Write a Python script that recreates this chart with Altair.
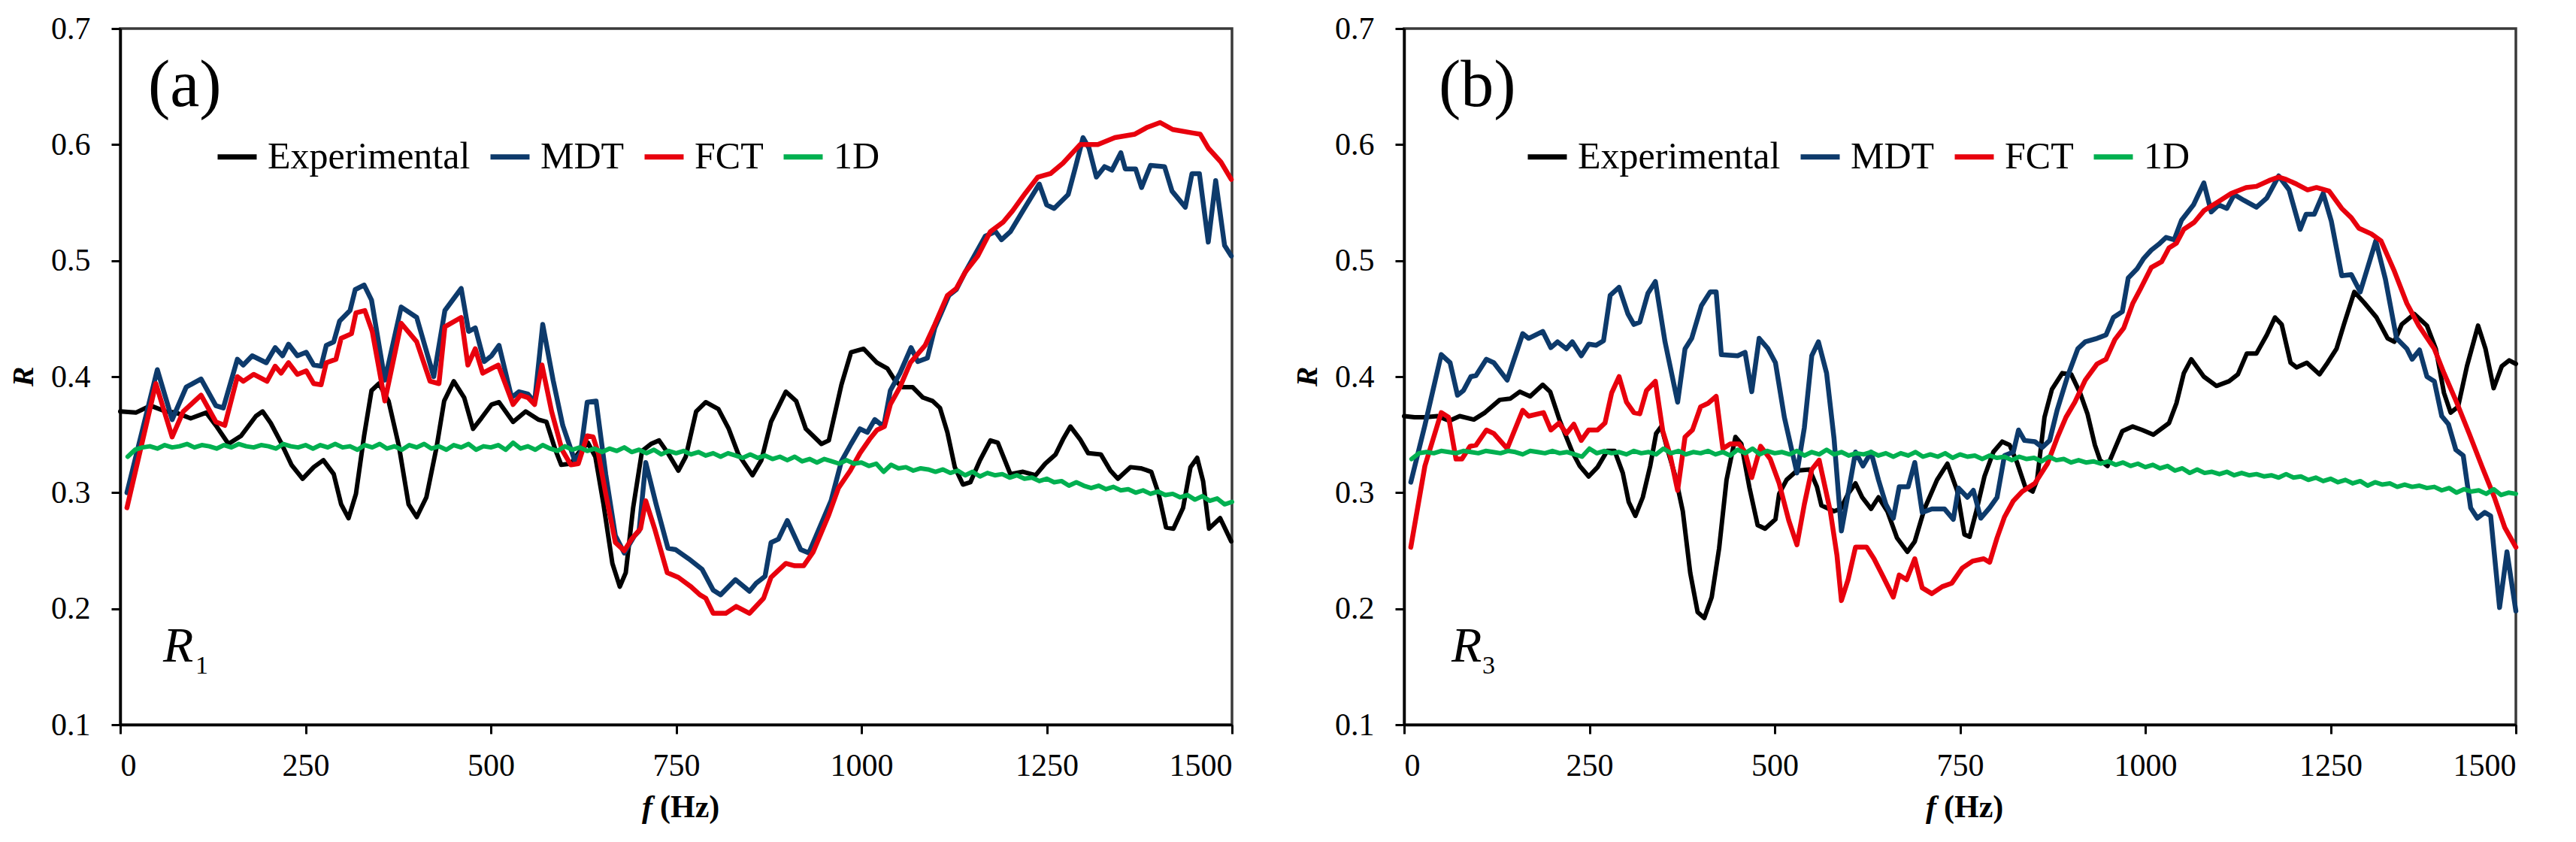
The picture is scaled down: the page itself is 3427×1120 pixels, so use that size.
import altair as alt
import pandas as pd

SERIES = ["Experimental", "MDT", "FCT", "1D"]
COLORS = ["#000000", "#0d3a6b", "#e8000d", "#00b050"]
WIDTHS = [6, 6.5, 6.5, 6]
FONT = "Liberation Serif"
X_TICKS = [0, 250, 500, 750, 1000, 1250, 1500]
Y_TICKS = [0.1, 0.2, 0.3, 0.4, 0.5, 0.6, 0.7]

# ---------------- panel (a) ----------------
a_exp_f = [0, 21, 41, 61, 75, 95, 116, 129, 146, 163, 183, 192, 203, 217, 231, 246, 261, 274, 288, 298,
           308, 318, 329, 339, 349, 362, 376, 389, 400, 413, 427, 437, 450, 464, 476, 487, 501,
           511, 530, 547, 564, 575, 587, 595, 608, 618, 631, 641, 652, 664, 674, 682, 692, 704, 716,
           727, 739, 753, 763, 777, 790, 807, 821, 834, 853, 865, 878, 898, 912, 925, 946, 956, 973,
           986, 1003, 1021, 1035, 1045, 1055, 1069, 1083, 1096, 1106, 1116, 1126, 1137, 1147, 1160,
           1174, 1184, 1201, 1218, 1235, 1248, 1262, 1272, 1282, 1295, 1306, 1323, 1336, 1346, 1363,
           1377, 1391, 1401, 1411, 1421, 1434, 1444, 1453, 1461, 1469, 1484, 1499]
a_exp_r = [0.370, 0.369, 0.375, 0.370, 0.369, 0.364, 0.369, 0.358, 0.342, 0.349, 0.366, 0.370, 0.360, 0.343,
           0.324, 0.312, 0.322, 0.328, 0.316, 0.290, 0.278, 0.299, 0.349, 0.388, 0.394, 0.379, 0.340,
           0.290, 0.279, 0.296, 0.340, 0.379, 0.396, 0.382, 0.355, 0.364, 0.376,
           0.378, 0.361, 0.370, 0.363, 0.361, 0.337, 0.324, 0.325, 0.334, 0.343, 0.331, 0.290, 0.239,
           0.219, 0.231, 0.287, 0.336, 0.342, 0.345, 0.334, 0.319, 0.331, 0.370, 0.378, 0.372, 0.355,
           0.333, 0.315, 0.328, 0.361, 0.387, 0.379, 0.355, 0.342, 0.345, 0.393, 0.421, 0.424,
           0.412, 0.407, 0.397, 0.391, 0.391, 0.382, 0.379, 0.373, 0.352, 0.322, 0.307, 0.309, 0.328,
           0.345, 0.343, 0.316, 0.318, 0.315, 0.325, 0.333, 0.346, 0.357, 0.346, 0.334, 0.333, 0.319,
           0.312, 0.322, 0.321, 0.318, 0.299, 0.270, 0.269, 0.287, 0.322, 0.330, 0.310, 0.269, 0.278,
           0.258]

a_mdt_f = [9, 50, 70, 89, 109, 129, 139, 158, 166, 178, 197, 209, 219, 227, 239, 251, 261, 271, 278, 288,
           296, 310, 317, 329, 339, 357, 379, 400, 423, 438, 460, 470, 479, 491, 501,
           511, 528, 538, 550, 559, 570, 584, 597, 613, 621, 630, 642, 655, 668, 680, 694, 700, 709,
           723, 739, 749, 767, 785, 800, 810, 830, 849, 858, 870, 878, 888, 900, 918, 929, 945, 959,
           973, 986, 998, 1008, 1018, 1030, 1039, 1052, 1067, 1076, 1089, 1099, 1118, 1128, 1140,
           1167, 1181, 1189, 1201, 1218, 1240, 1250, 1260, 1279, 1289, 1299, 1307, 1317, 1328, 1338,
           1350, 1356, 1370, 1378, 1390, 1409, 1419, 1437, 1446, 1456, 1468, 1478, 1490, 1499]
a_mdt_r = [0.300, 0.406, 0.363, 0.391, 0.398, 0.375, 0.373, 0.415, 0.410, 0.418, 0.412, 0.425, 0.418, 0.428,
           0.418, 0.421, 0.410, 0.409, 0.427, 0.430, 0.448, 0.457, 0.475, 0.479, 0.466, 0.397, 0.460,
           0.451, 0.400, 0.457, 0.476, 0.439, 0.442, 0.413, 0.418,
           0.427, 0.382, 0.387, 0.385, 0.378, 0.445, 0.397, 0.358, 0.328, 0.334, 0.378, 0.379, 0.316,
           0.263, 0.248, 0.263, 0.267, 0.326, 0.290, 0.252, 0.251, 0.243, 0.234, 0.216, 0.212, 0.225,
           0.215, 0.222, 0.228, 0.257, 0.260, 0.276, 0.251, 0.248, 0.272, 0.293, 0.327, 0.342,
           0.355, 0.352, 0.363, 0.357, 0.388, 0.403, 0.425, 0.413, 0.416, 0.442, 0.470, 0.475, 0.490,
           0.521, 0.525, 0.518, 0.525, 0.543, 0.566, 0.548, 0.545, 0.557, 0.581, 0.606, 0.597, 0.572,
           0.581, 0.578, 0.593, 0.579, 0.579, 0.563, 0.582, 0.581, 0.560, 0.546, 0.575, 0.575, 0.516,
           0.569, 0.513, 0.504]

a_fct_f = [9, 48, 70, 85, 109, 129, 141, 158, 166, 180, 198, 209, 217, 227, 239, 251, 261, 271, 278, 291,
           298, 312, 318, 330, 340, 357, 379, 400, 418, 430, 438, 460, 469, 479, 489, 501,
           510, 530, 540, 550, 559, 569, 582, 596, 608, 618, 630, 638, 645, 655, 668, 680, 690, 702,
           709, 721, 738, 753, 770, 782, 790, 800, 817, 831, 849, 868, 878, 898, 910, 922, 935, 956,
           969, 985, 998, 1011, 1021, 1031, 1039, 1052, 1066, 1086, 1099, 1116, 1128, 1140, 1157,
           1174, 1191, 1204, 1221, 1238, 1255, 1272, 1295, 1319, 1342, 1369, 1386, 1403, 1420, 1447,
           1457, 1468, 1485, 1499]
a_fct_r = [0.287, 0.394, 0.348, 0.370, 0.384, 0.361, 0.358, 0.400, 0.396, 0.402, 0.396, 0.409, 0.403, 0.412,
           0.402, 0.405, 0.394, 0.393, 0.412, 0.415, 0.433, 0.437, 0.455, 0.457, 0.439, 0.379, 0.446,
           0.430, 0.396, 0.394, 0.443, 0.451, 0.410, 0.424, 0.403, 0.407,
           0.410, 0.376, 0.384, 0.382, 0.376, 0.410, 0.370, 0.337, 0.324, 0.325, 0.349, 0.348, 0.334,
           0.299, 0.257, 0.250, 0.260, 0.269, 0.293, 0.269, 0.231, 0.227, 0.219, 0.212, 0.209, 0.196,
           0.196, 0.202, 0.196, 0.209, 0.227, 0.239, 0.237, 0.237, 0.249, 0.281, 0.304, 0.319,
           0.334, 0.346, 0.354, 0.357, 0.376, 0.391, 0.412, 0.427, 0.445, 0.470, 0.476, 0.490, 0.504,
           0.525, 0.533, 0.543, 0.558, 0.572, 0.575, 0.584, 0.600, 0.600, 0.606, 0.609, 0.615, 0.619,
           0.613, 0.610, 0.609, 0.597, 0.585, 0.570]

a_1d_r = [0.331, 0.337, 0.339, 0.340, 0.338, 0.341, 0.339, 0.340, 0.342, 0.339,
          0.341, 0.340, 0.338, 0.341, 0.339, 0.342, 0.340, 0.339, 0.341, 0.340,
          0.338, 0.342, 0.340, 0.339, 0.341, 0.338, 0.341, 0.339, 0.342, 0.339,
          0.340, 0.337, 0.341, 0.339, 0.342, 0.338, 0.340, 0.337, 0.341, 0.339,
          0.342, 0.338, 0.340, 0.337, 0.341, 0.339, 0.342, 0.337, 0.340, 0.339,
          0.341, 0.337, 0.343, 0.338, 0.340, 0.337, 0.341, 0.338, 0.336, 0.340,
          0.337, 0.339, 0.336, 0.338, 0.335, 0.338, 0.336, 0.339, 0.335, 0.337,
          0.334, 0.337, 0.333, 0.336, 0.334, 0.336, 0.333, 0.335, 0.332, 0.334,
          0.331, 0.334, 0.332, 0.330, 0.333, 0.330, 0.332, 0.329, 0.331, 0.328,
          0.331, 0.327, 0.329, 0.326, 0.329, 0.327, 0.325, 0.328, 0.325, 0.326,
          0.323, 0.325, 0.318, 0.324, 0.321, 0.322, 0.319, 0.321, 0.320, 0.318,
          0.320, 0.317, 0.319, 0.315, 0.318, 0.314, 0.317, 0.315, 0.316, 0.313,
          0.315, 0.312, 0.313, 0.310, 0.312, 0.309, 0.310, 0.306, 0.309, 0.306,
          0.304, 0.306, 0.303, 0.305, 0.302, 0.303, 0.300, 0.302, 0.299, 0.301,
          0.298, 0.299, 0.296, 0.298, 0.294, 0.297, 0.293, 0.295, 0.290, 0.292]

# ---------------- panel (b) ----------------
b_exp_f = [0, 14, 28, 45, 61, 75, 94, 109, 129, 143, 156, 170, 187, 197, 210, 227, 237, 249, 261, 274,
           284, 295, 303, 312, 322, 332, 340, 347, 355, 366, 376, 386, 396, 405, 415, 425, 435, 447,
           455, 466, 477, 487, 501,
           506, 516, 530, 547, 557, 563, 580, 589, 599, 609, 618, 630, 640, 652, 665, 679, 689, 702,
           719, 733, 746, 756, 763, 772, 783, 795, 807, 817, 827, 838, 848, 854, 864, 874, 888, 900,
           912, 922, 932, 939, 949, 959, 969, 983, 996,
           1011, 1032, 1042, 1052, 1062, 1079, 1096, 1113, 1125, 1137, 1150, 1164, 1175, 1184, 1196,
           1204, 1218, 1235, 1246, 1258, 1268, 1282, 1295, 1312, 1327, 1336, 1346, 1363, 1380, 1392,
           1403, 1412, 1422, 1434, 1449, 1459, 1470, 1481, 1491, 1500]
b_exp_r = [0.366, 0.365, 0.365, 0.366, 0.362, 0.366, 0.363, 0.369, 0.380, 0.381, 0.387, 0.383, 0.393, 0.387,
           0.362, 0.335, 0.323, 0.314, 0.322, 0.336, 0.336, 0.317, 0.292, 0.280, 0.296, 0.323, 0.351,
           0.357, 0.338, 0.314, 0.284, 0.231, 0.197, 0.192, 0.210, 0.252, 0.311, 0.348, 0.342, 0.304,
           0.272, 0.269, 0.277,
           0.299, 0.311, 0.319, 0.320, 0.305, 0.289, 0.284, 0.286, 0.299, 0.308, 0.296, 0.286, 0.296,
           0.284, 0.261, 0.249, 0.258, 0.286, 0.311, 0.325, 0.302, 0.264, 0.262, 0.284, 0.314, 0.335,
           0.344, 0.341, 0.326, 0.305, 0.301, 0.311, 0.365, 0.389, 0.403, 0.402, 0.386, 0.368, 0.341,
           0.328, 0.323, 0.338, 0.353, 0.357, 0.354,
           0.350, 0.360, 0.377, 0.403, 0.415, 0.400, 0.392, 0.396, 0.402, 0.420, 0.420, 0.436, 0.451,
           0.445, 0.412, 0.408, 0.412, 0.402, 0.412, 0.424, 0.445, 0.473, 0.464, 0.451, 0.433, 0.430,
           0.445, 0.454, 0.444, 0.424, 0.386, 0.369, 0.374, 0.409, 0.444, 0.424, 0.390, 0.409, 0.414,
           0.411]

b_mdt_f = [9, 28, 50, 62, 72, 80, 90, 97, 111, 121, 139, 160, 168, 187, 198, 207, 219, 227, 239, 249,
           259, 269, 278, 290, 302, 310, 318, 329, 339, 352, 369, 379, 388, 401, 413, 421, 428, 450,
           460, 469, 479, 491, 501,
           513, 530, 540, 550, 559, 570, 580, 590, 599, 609, 619, 630, 640, 650, 660, 668, 680, 689,
           699, 712, 729, 741, 748, 760, 768, 778, 790, 800, 810, 822, 829, 837, 851, 861, 871, 881,
           895, 909, 919, 935, 947, 957, 969, 977, 989,
           998, 1008, 1018, 1028, 1039, 1049, 1065, 1079, 1089, 1099, 1110, 1120, 1133, 1150, 1164,
           1180, 1194, 1209, 1217, 1228, 1240, 1251, 1265, 1278, 1290, 1311, 1324, 1339, 1353, 1360,
           1370, 1380, 1390, 1400, 1409, 1419, 1429, 1439, 1448, 1458, 1466, 1478, 1488, 1500]
b_mdt_r = [0.309, 0.358, 0.419, 0.412, 0.384, 0.388, 0.400, 0.401, 0.415, 0.412, 0.397, 0.437, 0.433, 0.439,
           0.425, 0.430, 0.424, 0.430, 0.418, 0.428, 0.427, 0.431, 0.470, 0.477, 0.454, 0.445, 0.447,
           0.472, 0.482, 0.430, 0.378, 0.424, 0.433, 0.461, 0.473, 0.473, 0.419, 0.418, 0.421, 0.387,
           0.433, 0.424, 0.412,
           0.365, 0.317, 0.356, 0.418, 0.430, 0.403, 0.347, 0.267, 0.299, 0.335, 0.323, 0.335, 0.311,
           0.290, 0.278, 0.305, 0.305, 0.326, 0.283, 0.286, 0.286, 0.277, 0.304, 0.296, 0.302, 0.278,
           0.287, 0.296, 0.332, 0.335, 0.354, 0.345, 0.344, 0.339, 0.345, 0.371, 0.400, 0.424, 0.430,
           0.433, 0.436, 0.451, 0.456, 0.485, 0.493,
           0.502, 0.509, 0.514, 0.520, 0.518, 0.535, 0.548, 0.567, 0.542, 0.548, 0.545, 0.557, 0.552,
           0.546, 0.554, 0.573, 0.561, 0.527, 0.540, 0.540, 0.558, 0.534, 0.487, 0.488, 0.473, 0.517,
           0.484, 0.433, 0.424, 0.415, 0.423, 0.400, 0.396, 0.366, 0.359, 0.337, 0.332, 0.287, 0.278,
           0.283, 0.280, 0.201, 0.249, 0.198]

b_fct_f = [9, 28, 50, 60, 70, 78, 89, 97, 111, 121, 139, 160, 168, 188, 198, 209, 219, 229, 239, 249,
           261, 271, 280, 290, 300, 310, 318, 327, 339, 349, 359, 369, 379, 389, 400, 410, 421, 430,
           440, 452, 460, 469, 481, 494,
           506, 519, 530, 540, 550, 560, 575, 584, 590, 599, 609, 624, 634, 646, 660, 668, 678, 689,
           699, 712, 726, 739, 753, 767, 782, 790, 800, 810, 822, 834, 851, 868, 881, 893, 905, 919,
           935, 947, 959, 971, 983, 993,
           1008, 1022, 1032, 1042, 1052, 1066, 1079, 1099, 1116, 1136, 1150, 1167, 1180, 1190, 1204,
           1219, 1231, 1248, 1265, 1278, 1288, 1305, 1318, 1336, 1353, 1369, 1390, 1403, 1420, 1437,
           1454, 1471, 1485, 1500]
b_fct_r = [0.253, 0.323, 0.369, 0.365, 0.329, 0.329, 0.340, 0.341, 0.354, 0.351, 0.338, 0.371, 0.366, 0.369,
           0.354, 0.360, 0.351, 0.359, 0.345, 0.354, 0.354, 0.360, 0.386, 0.400, 0.378, 0.369, 0.368,
           0.388, 0.396, 0.353, 0.332, 0.302, 0.348, 0.354, 0.374, 0.377, 0.383, 0.338, 0.342, 0.342,
           0.335, 0.313, 0.340, 0.329,
           0.308, 0.276, 0.255, 0.290, 0.320, 0.328, 0.284, 0.246, 0.207, 0.225, 0.253, 0.253, 0.243,
           0.228, 0.210, 0.229, 0.225, 0.243, 0.218, 0.213, 0.219, 0.222, 0.235, 0.241, 0.243, 0.240,
           0.261, 0.279, 0.293, 0.301, 0.308, 0.325, 0.347, 0.365, 0.378, 0.397, 0.411, 0.415, 0.432,
           0.442, 0.463, 0.475,
           0.494, 0.499, 0.511, 0.515, 0.527, 0.533, 0.543, 0.551, 0.558, 0.563, 0.564, 0.569, 0.572,
           0.570, 0.566, 0.561, 0.563, 0.560, 0.545, 0.537, 0.528, 0.523, 0.517, 0.491, 0.463, 0.444,
           0.424, 0.403, 0.378, 0.351, 0.323, 0.296, 0.270, 0.253]

b_1d_r = [0.329, 0.334, 0.335, 0.334, 0.336, 0.335, 0.334, 0.336, 0.335, 0.334,
          0.336, 0.335, 0.334, 0.336, 0.335, 0.333, 0.336, 0.335, 0.334, 0.336,
          0.334, 0.335, 0.333, 0.331, 0.338, 0.334, 0.336, 0.334, 0.335, 0.333,
          0.336, 0.334, 0.335, 0.333, 0.338, 0.334, 0.336, 0.333, 0.335, 0.334,
          0.336, 0.333, 0.335, 0.332, 0.337, 0.334, 0.338, 0.333, 0.336, 0.334,
          0.335, 0.333, 0.336, 0.332, 0.335, 0.333, 0.337, 0.333, 0.335, 0.332,
          0.334, 0.333, 0.335, 0.332, 0.334, 0.331, 0.334, 0.332, 0.335, 0.331,
          0.333, 0.331, 0.334, 0.330, 0.333, 0.331, 0.332, 0.329, 0.332, 0.330,
          0.331, 0.328, 0.331, 0.329, 0.330, 0.327, 0.331, 0.328, 0.329, 0.326,
          0.328, 0.326, 0.327, 0.325, 0.327, 0.324, 0.326, 0.323, 0.325, 0.322,
          0.324, 0.321, 0.323, 0.319, 0.321, 0.317, 0.320, 0.317, 0.318, 0.316,
          0.318, 0.315, 0.317, 0.315, 0.316, 0.314, 0.315, 0.313, 0.316, 0.313,
          0.314, 0.311, 0.313, 0.310, 0.312, 0.309, 0.311, 0.308, 0.310, 0.306,
          0.309, 0.307, 0.308, 0.305, 0.307, 0.305, 0.306, 0.304, 0.305, 0.302,
          0.304, 0.300, 0.303, 0.301, 0.302, 0.299, 0.303, 0.298, 0.300, 0.299]

d1_f = list(range(10, 1510, 10))

PLOT_W = 1479
PLOT_H = 926


def text_layer(txt, x, y, size, style="normal", weight="normal", align="left",
               baseline="alphabetic", angle=0):
    return alt.Chart(pd.DataFrame({"t": [txt]})).mark_text(
        font=FONT, fontSize=size, fontStyle=style, fontWeight=weight, align=align,
        baseline=baseline, angle=angle, color="black"
    ).encode(x=alt.value(x), y=alt.value(y), text="t:N")


def panel(exp_f, exp_r, mdt_f, mdt_r, fct_f, fct_r, d1_r, tag, tag_x, sub, r_x, sub_x, leg_x):
    rows = []
    for name, fs, rs in [("Experimental", exp_f, exp_r), ("MDT", mdt_f, mdt_r),
                         ("FCT", fct_f, fct_r), ("1D", d1_f, d1_r)]:
        rows += [{"f": f, "R": r, "series": name} for f, r in zip(fs, rs)]
    df = pd.DataFrame(rows)

    x = alt.X("f:Q", scale=alt.Scale(domain=[0, 1500], nice=False, zero=False),
              axis=alt.Axis(values=X_TICKS, title=None, labelPadding=22, format="d"))
    y = alt.Y("R:Q", scale=alt.Scale(domain=[0.1, 0.7], nice=False, zero=False),
              axis=alt.Axis(values=Y_TICKS, title=None, format=".1f", labelPadding=28))
    color = alt.Color(
        "series:N",
        scale=alt.Scale(domain=SERIES, range=COLORS),
        legend=alt.Legend(orient="none", legendX=leg_x, legendY=141, direction="horizontal",
                          title=None, labelFont=FONT, labelFontSize=50, labelColor="black",
                          labelLimit=2000,
                          symbolType="stroke", symbolSize=2700, symbolStrokeWidth=7,
                          labelOffset=11, columnPadding=12, padding=0),
    )
    layers = []
    for name, sw in zip(SERIES, WIDTHS):
        layers.append(
            alt.Chart(df).transform_filter(alt.datum.series == name)
            .mark_line(strokeWidth=sw, strokeJoin="round", strokeCap="round")
            .encode(x=x, y=y, color=color)
        )
    texts = [
        text_layer(tag, tag_x, 103, 88),
        text_layer("R", r_x, 842, 66, style="italic"),
        text_layer(sub, sub_x, 858, 34),
        text_layer("R", -128, PLOT_H / 2, 40, style="italic", weight="bold",
                   align="center", baseline="middle", angle=270),
        text_layer("f", 708, 1049, 42, style="italic", weight="bold", align="right"),
        text_layer("(Hz)", 718, 1049, 42, weight="bold"),
    ]
    return alt.layer(*layers, *texts).properties(width=PLOT_W, height=PLOT_H)


pa = panel(a_exp_f, a_exp_r, a_mdt_f, a_mdt_r, a_fct_f, a_fct_r, a_1d_r,
           "(a)", 37, "1", 57, 100, 126)
pb = panel(b_exp_f, b_exp_r, b_mdt_f, b_mdt_r, b_fct_f, b_fct_r, b_1d_r,
           "(b)", 46, "3", 63, 104, 161)

chart = (
    alt.hconcat(pa, pb, spacing=229, bounds="flush")
    .resolve_scale(color="independent")
    .resolve_legend(color="independent")
    .properties(padding={"left": 2, "top": 7, "right": 5, "bottom": 5}, background="white")
    .configure_view(stroke="#3a3a3a", strokeWidth=3.5)
    .configure_axis(
        domainColor="black", domainWidth=3.5, tickColor="black", tickWidth=3, tickSize=12,
        labelFont=FONT, labelFontSize=42, labelColor="black", grid=False,
    )
)

chart.save("out.html", embed_options={"renderer": "svg", "actions": False})
